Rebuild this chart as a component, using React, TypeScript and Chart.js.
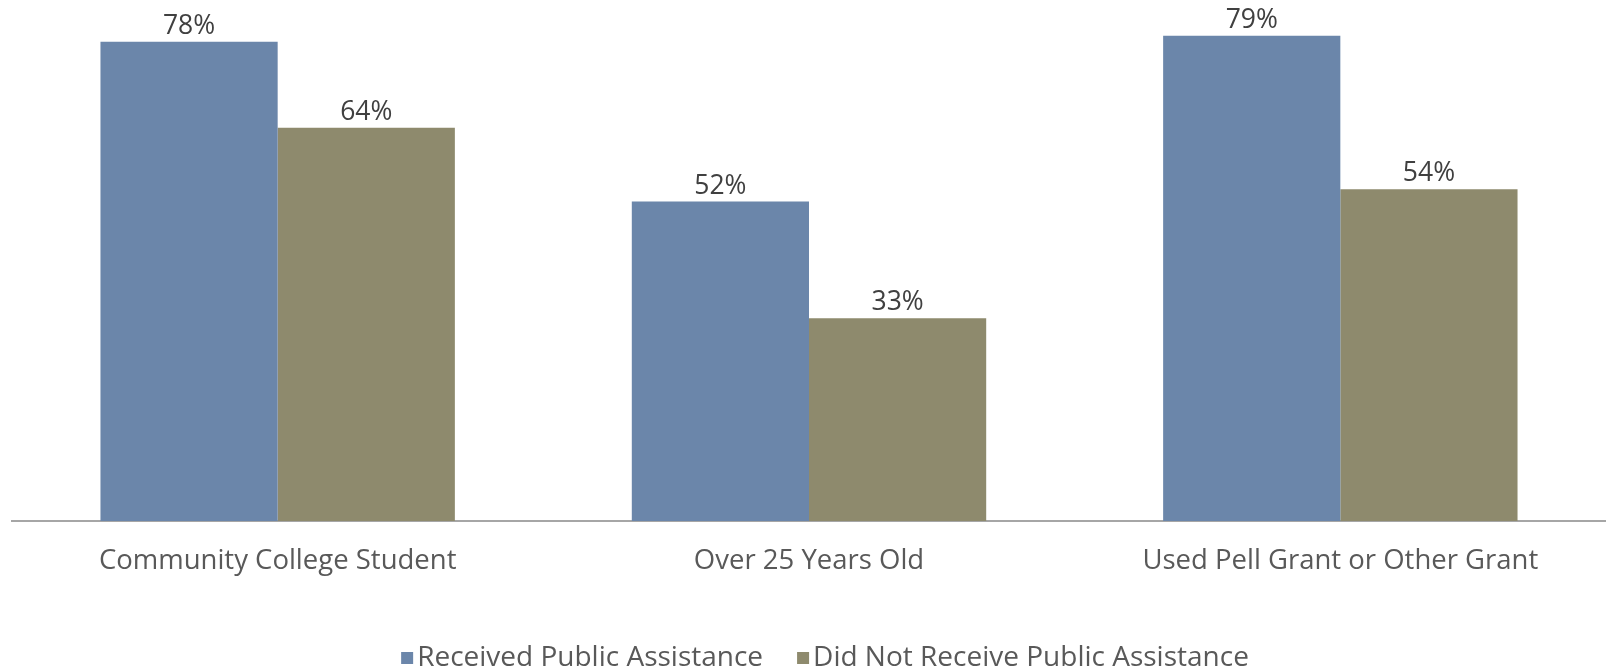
import React, { useEffect, useRef } from "react";
import { Chart, registerables } from "chart.js";

Chart.register(...registerables);

const categories = ["Community College Student", "Over 25 Years Old", "Used Pell Grant or Other Grant"];
const receivedValues = [78, 52, 79];
const notReceivedValues = [64, 33, 54];
const seriesNames = ["Received Public Assistance", "Did Not Receive Public Assistance"];
const seriesColors = ["#6b86aa", "#8e8a6d"];

const FONT = "'Open Sans', sans-serif";

const valueLabelPlugin = {
  id: "valueLabels",
  afterDatasetsDraw(chart: any) {
    const ctx = chart.ctx;
    ctx.save();
    ctx.font = `26.5px ${FONT}`;
    ctx.fillStyle = "#404040";
    ctx.textAlign = "center";
    ctx.textBaseline = "alphabetic";
    chart.data.datasets.forEach((ds: any, i: number) => {
      const meta = chart.getDatasetMeta(i);
      meta.data.forEach((bar: any, j: number) => {
        ctx.fillText(`${ds.data[j]}%`, bar.x, bar.y - 8);
      });
    });
    ctx.restore();
  },
};

const legendPlugin = {
  id: "customLegend",
  afterDraw(chart: any) {
    const ctx = chart.ctx;
    ctx.save();
    ctx.font = `28px ${FONT}`;
    ctx.textBaseline = "middle";
    ctx.textAlign = "left";
    const box = 12;
    const gap = 4;
    const itemGap = 34;
    const items = chart.data.datasets.map((ds: any) => ({
      label: ds.label,
      color: ds.backgroundColor,
      w: box + gap + ctx.measureText(ds.label).width,
    }));
    const total = items.reduce((s: number, it: any) => s + it.w, 0) + itemGap * (items.length - 1);
    let x = 825 - total / 2;
    const y = 658;
    items.forEach((it: any) => {
      ctx.fillStyle = it.color;
      ctx.fillRect(x, y - box / 2, box, box);
      ctx.fillStyle = "#595959";
      ctx.fillText(it.label, x + box + gap, y);
      x += it.w + itemGap;
    });
    ctx.restore();
  },
};

export default function App() {
  const ref = useRef<HTMLCanvasElement>(null);
  useEffect(() => {
    if (!ref.current) return;
    const chart = new Chart(ref.current, {
      type: "bar",
      data: {
        labels: categories,
        datasets: [
          { label: seriesNames[0], data: receivedValues, backgroundColor: seriesColors[0] },
          { label: seriesNames[1], data: notReceivedValues, backgroundColor: seriesColors[1] },
        ],
      },
      options: {
        animation: false,
        responsive: false,
        maintainAspectRatio: false,
        categoryPercentage: 0.667,
        barPercentage: 1.0,
        layout: { padding: { left: 12, right: 0, top: 0, bottom: 68 } },
        plugins: { legend: { display: false }, tooltip: { enabled: false } },
        scales: {
          x: {
            grid: { display: false, drawTicks: false },
            border: { display: true, color: "#a6a6a6", width: 2 },
            ticks: { font: { family: FONT, size: 27.5 }, color: "#595959", padding: 24, maxRotation: 0 },
          },
          y: { display: false, min: 0, max: 84.8 },
        },
      },
      plugins: [valueLabelPlugin, legendPlugin],
    } as any);
    return () => chart.destroy();
  }, []);
  return (
    <div style={{ position: "absolute", left: 0, top: 0, width: 1606, height: 670, background: "#fff" }}>
      <canvas ref={ref} width={1606} height={670} style={{ width: 1606, height: 670 }} />
    </div>
  );
}
